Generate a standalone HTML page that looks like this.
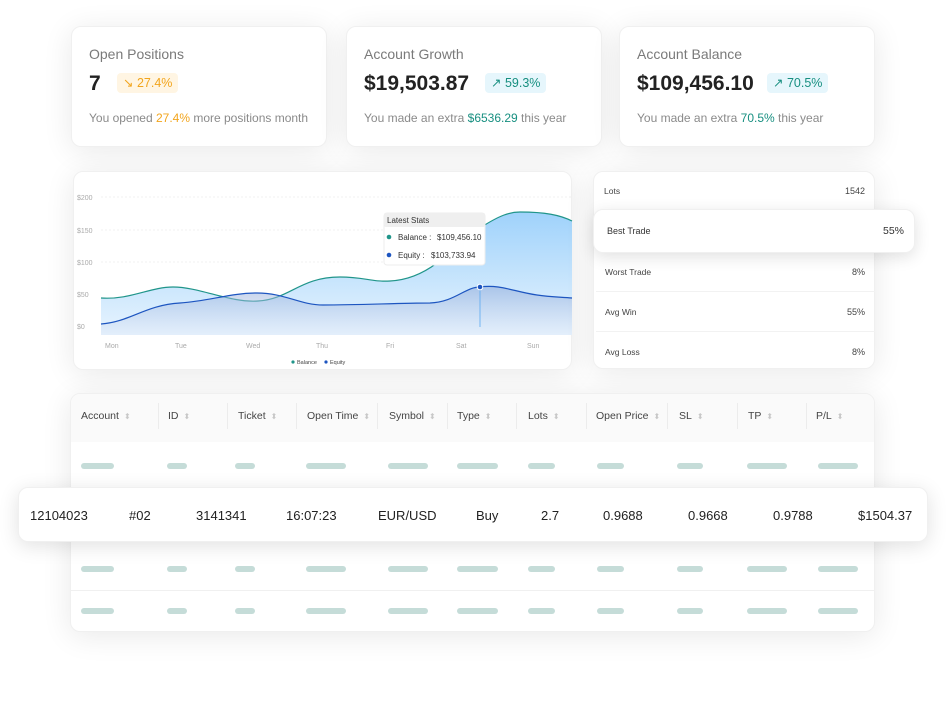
<!DOCTYPE html>
<html><head><meta charset="utf-8"><style>
*{margin:0;padding:0;box-sizing:border-box}
body{width:947px;height:708px;background:#fff;font-family:"Liberation Sans",sans-serif;position:relative;overflow:hidden;color:#222}
.card{position:absolute;background:#fff;border-radius:10px;box-shadow:0 4px 30px rgba(0,0,0,0.09);border:1px solid #f0f0f0}
.t{position:absolute;white-space:nowrap}
.lbl{font-size:14px;color:#7a7a7a}
.big{font-size:21px;font-weight:bold;color:#222}
.sub{font-size:12px;color:#8a8a8a}
.badge{position:absolute;height:20px;border-radius:4px;font-size:12.5px;line-height:20px;padding:0 6px}
.pill{position:absolute;height:6px;border-radius:3px;background:#c5dcd8}
.hd{font-size:10.5px;color:#444}
.hd i{font-style:normal;color:#c8c8c8;font-size:8px;margin-left:5px}
.dv{position:absolute;width:1px;height:26px;top:403px;background:#ececec}
.rv{position:absolute;font-size:13px;color:#222;top:508px}
.st{font-size:8.5px;color:#444}
</style></head><body>

<div class="card" style="left:71px;top:26px;width:256px;height:121px">
<div class="t lbl" style="left:17px;top:19px">Open Positions</div>
<div class="t big" style="left:17px;top:45px">7</div>
<div class="badge" style="left:45px;top:46px;background:#fff5e3;color:#f2a51d">↘ 27.4%</div>
<div class="t sub" style="left:17px;top:84px">You opened <span style="color:#f2a51d">27.4%</span> more positions month</div>
</div>
<div class="card" style="left:346px;top:26px;width:256px;height:121px">
<div class="t lbl" style="left:17px;top:19px">Account Growth</div>
<div class="t big" style="left:17px;top:45px">$19,503.87</div>
<div class="badge" style="left:138px;top:46px;background:#e6f6fc;color:#178f80">↗ 59.3%</div>
<div class="t sub" style="left:17px;top:84px">You made an extra <span style="color:#178f80">$6536.29</span> this year</div>
</div>
<div class="card" style="left:619px;top:26px;width:256px;height:121px">
<div class="t lbl" style="left:17px;top:19px">Account Balance</div>
<div class="t big" style="left:17px;top:45px">$109,456.10</div>
<div class="badge" style="left:147px;top:46px;background:#e6f6fc;color:#178f80">↗ 70.5%</div>
<div class="t sub" style="left:17px;top:84px">You made an extra <span style="color:#178f80">70.5%</span> this year</div>
</div>

<div class="card" style="left:73px;top:171px;width:499px;height:199px;overflow:hidden"></div>
<svg style="position:absolute;left:0;top:0" width="947" height="708">
<defs>
<linearGradient id="g1" x1="0" y1="0" x2="0" y2="1"><stop offset="0" stop-color="#9fd2fb"/><stop offset="1" stop-color="#e8f4fe"/></linearGradient>
<linearGradient id="g2" x1="0" y1="0" x2="0" y2="1"><stop offset="0" stop-color="#8fa8d8" stop-opacity="0.55"/><stop offset="1" stop-color="#d8e2f4" stop-opacity="0.3"/></linearGradient>
</defs>
<g font-family="Liberation Sans" font-size="7" fill="#aaa">
<text x="77" y="200">$200</text><text x="77" y="233">$150</text><text x="77" y="265">$100</text><text x="77" y="297">$50</text><text x="77" y="329">$0</text>
<text x="105" y="348">Mon</text><text x="175" y="348">Tue</text><text x="246" y="348">Wed</text><text x="316" y="348">Thu</text><text x="386" y="348">Fri</text><text x="456" y="348">Sat</text><text x="527" y="348">Sun</text>
</g>
<g stroke="#f0f0f0" stroke-dasharray="2 2"><line x1="101" y1="197" x2="572" y2="197"/><line x1="101" y1="230" x2="572" y2="230"/><line x1="101" y1="262" x2="572" y2="262"/></g>
<path d="M101 298 C130 300,150 287,173 287 C200 287,230 303,258 301 C290 299,300 277,340 277 C365 277,370 282,390 281 C410 280,425 272,437 263 C455 245,465 232,480 228 C500 215,510 212,520 212 C545 212,560 215,572 221 L572 335 L101 335Z" fill="url(#g1)"/>
<path d="M101 298 C130 300,150 287,173 287 C200 287,230 303,258 301 C290 299,300 277,340 277 C365 277,370 282,390 281 C410 280,425 272,437 263 C455 245,465 232,480 228 C500 215,510 212,520 212 C545 212,560 215,572 221" fill="none" stroke="#20958a" stroke-width="1.2"/>
<path d="M101 324 C130 322,145 305,180 303 C210 301,230 293,257 293 C285 293,300 305,323 305 C360 305,400 303,430 303 C455 302,465 287,480 287 C500 284,515 292,537 295 C550 297,560 297,572 298 L572 335 L101 335Z" fill="url(#g2)"/>
<path d="M101 324 C130 322,145 305,180 303 C210 301,230 293,257 293 C285 293,300 305,323 305 C360 305,400 303,430 303 C455 302,465 287,480 287 C500 284,515 292,537 295 C550 297,560 297,572 298" fill="none" stroke="#1d55c0" stroke-width="1.2"/>
<line x1="480" y1="287" x2="480" y2="327" stroke="#5aa9f0" stroke-width="0.8"/>
<circle cx="480" cy="287" r="2.8" fill="#1d55c0" stroke="#fff" stroke-width="1"/>
<rect x="384" y="213" width="101" height="52" rx="3" fill="#fff" stroke="#eee"/>
<rect x="384" y="213" width="101" height="14" rx="2" fill="#efefef"/>
<g font-family="Liberation Sans" font-size="8" fill="#333">
<text x="387" y="223">Latest Stats</text>
<circle cx="389" cy="237" r="2.3" fill="#20958a"/><text x="398" y="240">Balance :</text><text x="437" y="240">$109,456.10</text>
<circle cx="389" cy="255" r="2.3" fill="#1d55c0"/><text x="398" y="258">Equity :</text><text x="431" y="258">$103,733.94</text>
</g>
<g font-family="Liberation Sans" font-size="5.5" fill="#444">
<circle cx="293" cy="362" r="1.6" fill="#20958a"/><text x="297" y="364">Balance</text>
<circle cx="326" cy="362" r="1.6" fill="#1d55c0"/><text x="330" y="364">Equity</text>
</g>
</svg>

<div class="card" style="left:593px;top:171px;width:282px;height:198px"></div>
<div class="t st" style="left:604px;top:186px">Lots</div><div class="t st" style="right:82px;top:186px;font-size:9px">1542</div>
<div style="position:absolute;left:596px;top:291px;width:279px;height:1px;background:#f2f2f2"></div>
<div style="position:absolute;left:596px;top:331px;width:279px;height:1px;background:#f2f2f2"></div>
<div class="t st" style="left:605px;top:267px">Worst Trade</div><div class="t st" style="right:82px;top:267px;font-size:9px">8%</div>
<div class="t st" style="left:605px;top:307px">Avg Win</div><div class="t st" style="right:82px;top:307px;font-size:9px">55%</div>
<div class="t st" style="left:605px;top:347px">Avg Loss</div><div class="t st" style="right:82px;top:347px;font-size:9px">8%</div>
<div class="card" style="left:593px;top:209px;width:322px;height:44px;box-shadow:0 4px 16px rgba(0,0,0,0.12)">
<div class="t" style="left:13px;top:16px;font-size:9px;color:#333">Best Trade</div>
<div class="t" style="right:10px;top:15px;font-size:10.5px;color:#333">55%</div>
</div>

<div class="card" style="left:70px;top:393px;width:805px;height:239px;overflow:hidden">
<div style="position:absolute;left:0;top:0;width:100%;height:48px;background:#fafafa"></div>
<div style="position:absolute;left:0;top:196px;width:100%;height:1px;background:#f0f0f0"></div>
</div>
<div class="t hd" style="left:81px;top:410px">Account<i>⬍</i></div>
<div class="t hd" style="left:168px;top:410px">ID<i>⬍</i></div>
<div class="t hd" style="left:238px;top:410px">Ticket<i>⬍</i></div>
<div class="t hd" style="left:307px;top:410px">Open Time<i>⬍</i></div>
<div class="t hd" style="left:389px;top:410px">Symbol<i>⬍</i></div>
<div class="t hd" style="left:457px;top:410px">Type<i>⬍</i></div>
<div class="t hd" style="left:528px;top:410px">Lots<i>⬍</i></div>
<div class="t hd" style="left:596px;top:410px">Open Price<i>⬍</i></div>
<div class="t hd" style="left:679px;top:410px">SL<i>⬍</i></div>
<div class="t hd" style="left:748px;top:410px">TP<i>⬍</i></div>
<div class="t hd" style="left:816px;top:410px">P/L<i>⬍</i></div>
<div class="dv" style="left:158px"></div><div class="dv" style="left:227px"></div><div class="dv" style="left:296px"></div><div class="dv" style="left:377px"></div><div class="dv" style="left:447px"></div><div class="dv" style="left:516px"></div><div class="dv" style="left:586px"></div><div class="dv" style="left:667px"></div><div class="dv" style="left:737px"></div><div class="dv" style="left:806px"></div>

<div id="pills"></div>
<div class="pill" style="left:81px;top:463px;width:33px"></div><div class="pill" style="left:167px;top:463px;width:20px"></div><div class="pill" style="left:235px;top:463px;width:20px"></div><div class="pill" style="left:306px;top:463px;width:40px"></div><div class="pill" style="left:388px;top:463px;width:40px"></div><div class="pill" style="left:457px;top:463px;width:41px"></div><div class="pill" style="left:528px;top:463px;width:27px"></div><div class="pill" style="left:597px;top:463px;width:27px"></div><div class="pill" style="left:677px;top:463px;width:26px"></div><div class="pill" style="left:747px;top:463px;width:40px"></div><div class="pill" style="left:818px;top:463px;width:40px"></div>
<div class="pill" style="left:81px;top:566px;width:33px"></div><div class="pill" style="left:167px;top:566px;width:20px"></div><div class="pill" style="left:235px;top:566px;width:20px"></div><div class="pill" style="left:306px;top:566px;width:40px"></div><div class="pill" style="left:388px;top:566px;width:40px"></div><div class="pill" style="left:457px;top:566px;width:41px"></div><div class="pill" style="left:528px;top:566px;width:27px"></div><div class="pill" style="left:597px;top:566px;width:27px"></div><div class="pill" style="left:677px;top:566px;width:26px"></div><div class="pill" style="left:747px;top:566px;width:40px"></div><div class="pill" style="left:818px;top:566px;width:40px"></div>
<div class="pill" style="left:81px;top:608px;width:33px"></div><div class="pill" style="left:167px;top:608px;width:20px"></div><div class="pill" style="left:235px;top:608px;width:20px"></div><div class="pill" style="left:306px;top:608px;width:40px"></div><div class="pill" style="left:388px;top:608px;width:40px"></div><div class="pill" style="left:457px;top:608px;width:41px"></div><div class="pill" style="left:528px;top:608px;width:27px"></div><div class="pill" style="left:597px;top:608px;width:27px"></div><div class="pill" style="left:677px;top:608px;width:26px"></div><div class="pill" style="left:747px;top:608px;width:40px"></div><div class="pill" style="left:818px;top:608px;width:40px"></div>

<div class="card" style="left:18px;top:487px;width:910px;height:55px;box-shadow:0 4px 20px rgba(0,0,0,0.12)"></div>
<div class="rv" style="left:30px">12104023</div>
<div class="rv" style="left:129px">#02</div>
<div class="rv" style="left:196px">3141341</div>
<div class="rv" style="left:286px">16:07:23</div>
<div class="rv" style="left:378px">EUR/USD</div>
<div class="rv" style="left:476px">Buy</div>
<div class="rv" style="left:541px">2.7</div>
<div class="rv" style="left:603px">0.9688</div>
<div class="rv" style="left:688px">0.9668</div>
<div class="rv" style="left:773px">0.9788</div>
<div class="rv" style="left:858px">$1504.37</div>
</body></html>
